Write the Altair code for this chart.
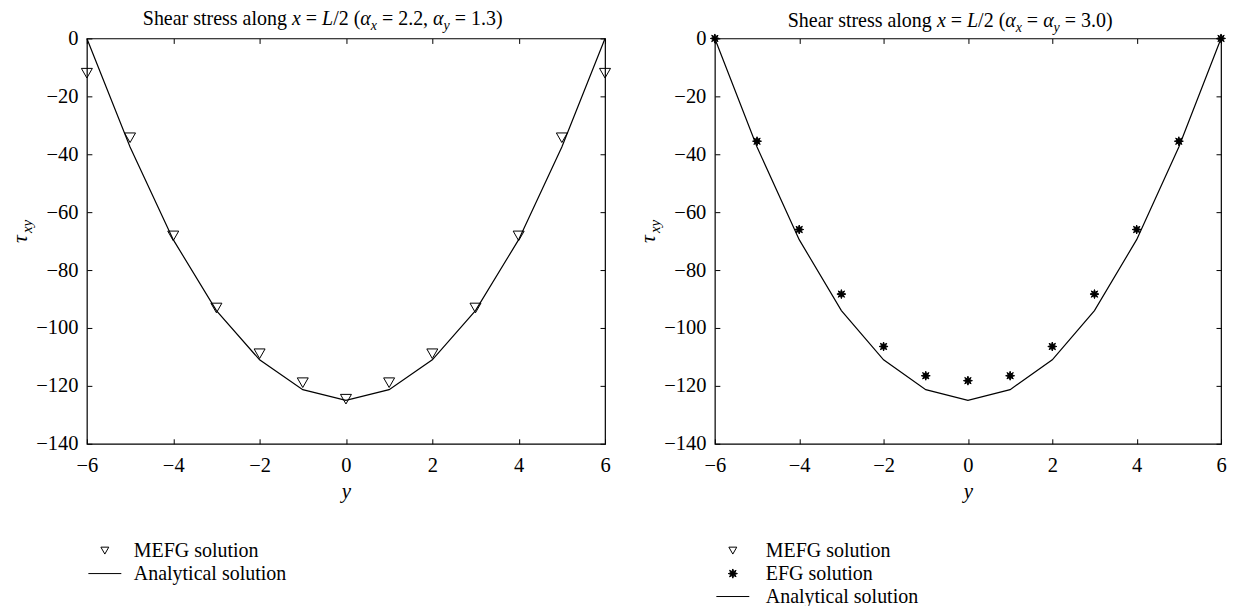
import math
import altair as alt
import pandas as pd

# ---------------- data ----------------
y_coord = [-6, -5, -4, -3, -2, -1, 0, 1, 2, 3, 4, 5, 6]
analytical = [0.0, -37.5, -69.5, -94.0, -111.0, -121.3, -125.0,
              -121.3, -111.0, -94.0, -69.5, -37.5, 0.0]
mefg_left = [-12.0, -34.3, -68.2, -93.1, -108.9, -118.9, -124.6,
             -118.9, -108.9, -93.1, -68.2, -34.3, -12.0]
efg_right = [0.0, -35.5, -66.0, -88.3, -106.4, -116.5, -118.2,
             -116.5, -106.4, -88.3, -66.0, -35.5, 0.0]

x_ticks = [-6, -4, -2, 0, 2, 4, 6]
y_ticks = [-140, -120, -100, -80, -60, -40, -20, 0]

series_left = ["MEFG solution", "Analytical solution"]
series_right = ["MEFG solution", "EFG solution", "Analytical solution"]

FONT = "Liberation Serif"

# ---------------- marker shapes (scaled so legend symbols stay small) ----------------
def poly(points):
    return "M" + "L".join(f"{x:.3f},{y:.3f}" for x, y in points) + "Z"

TRI = poly([(-0.24, -0.21), (0.24, -0.21), (0.0, 0.21)])
star_pts = []
for k in range(16):
    r = 0.28 if k % 2 == 0 else 0.13
    a = k * math.pi / 8 - math.pi / 2
    star_pts.append((r * math.cos(a), r * math.sin(a)))
STAR = poly(star_pts)

xscale = alt.Scale(domain=[-6, 6], nice=False, zero=False)
yscale = alt.Scale(domain=[-140, 0], nice=False, zero=False)


def axes_bottom_left():
    ax_x = alt.Axis(orient="bottom", values=x_ticks, domain=False, grid=False,
                    tickSize=5, offset=-5, labelPadding=12, labelFlush=False,
                    title="y", titleFontStyle="italic", titleFontSize=21,
                    titleFontWeight="normal", titlePadding=4)
    ax_y = alt.Axis(orient="left", values=y_ticks, domain=False, grid=False,
                    tickSize=5, offset=-5, labelPadding=9, title=None)
    return ax_x, ax_y


def axes_top_right():
    ax_x = alt.Axis(orient="top", values=x_ticks, domain=False, grid=False,
                    tickSize=5, offset=-5, labels=False, title=None)
    ax_y = alt.Axis(orient="right", values=y_ticks, domain=False, grid=False,
                    tickSize=5, offset=-5, labels=False, title=None)
    return ax_x, ax_y


W_REG = {' ': 0.25, '(': 0.333, ')': 0.333, ',': 0.25, '.': 0.25, '/': 0.278,
         '=': 0.564, 'S': 0.556, 'h': 0.5, 'e': 0.444, 'a': 0.444, 'r': 0.333,
         's': 0.389, 't': 0.278, 'l': 0.278, 'o': 0.5, 'n': 0.5, 'g': 0.5, 'L': 0.611}
W_IT = {'x': 0.444, 'L': 0.556, 'y': 0.444, 'α': 0.52, ' ': 0.25}

DUMMY = pd.DataFrame({"k": [0]})


def piece(txt, x, y, size, italic, angle=0):
    return alt.Chart(DUMMY).mark_text(
        text=txt, align="left", baseline="alphabetic", font=FONT,
        fontSize=size, fontStyle="italic" if italic else "normal",
        color="black", angle=angle
    ).encode(x=alt.value(x), y=alt.value(y))


def title_layers(segments, x0, y0, size=20, sub=14):
    layers = []
    x = x0
    for txt, kind in segments:
        table = W_REG if kind == "n" else W_IT
        fs = sub if kind == "s" else size
        yy = y0 + 5 if kind == "s" else y0
        core = txt.strip(" ")
        lead = len(txt) - len(txt.lstrip(" "))
        trail = len(txt) - len(txt.rstrip(" "))
        x += lead * 0.25 * fs
        if core:
            layers.append(piece(core, x, yy, fs, kind != "n"))
            x += sum(table.get(c, 0.5) for c in core) * fs
        x += trail * 0.25 * fs
    return layers


def tau_layers(height):
    y0 = height / 2 + 2
    return [piece("τ", -60, y0, 22, True, angle=270),
            piece("xy", -55, y0 - 10, 15, True, angle=270)]


def panel(width, height, points, series_domain, shape_range, fill_range,
          point_size, title_segments, title_x, title_y, legend_x, legend_y, label_offset):
    df_line = pd.DataFrame({"y": y_coord, "tau": analytical})
    df_pts = pd.DataFrame({"y": y_coord, "tau": points["values"],
                           "series": [points["name"]] * len(y_coord)})
    bx, ly = axes_bottom_left()
    tx, ry = axes_top_right()
    leg = alt.Legend(orient="none", legendX=legend_x, legendY=legend_y, title=None,
                     symbolSize=1089, clipHeight=20, rowPadding=3, padding=0,
                     labelOffset=label_offset, labelFont=FONT, labelFontSize=20,
                     labelColor="black", symbolStrokeColor="black", symbolStrokeWidth=1)
    line = alt.Chart(df_line).mark_line(color="black", strokeWidth=1.2).encode(
        x=alt.X("y:Q", scale=xscale, axis=bx),
        y=alt.Y("tau:Q", scale=yscale, axis=ly),
    )
    pts = alt.Chart(df_pts).mark_point(filled=True, strokeWidth=1,
                                       opacity=1, size=point_size).encode(
        x=alt.X("y:Q", scale=xscale, axis=tx),
        y=alt.Y("tau:Q", scale=yscale, axis=ry),
        shape=alt.Shape("series:N", scale=alt.Scale(domain=series_domain, range=shape_range), legend=leg),
        fill=alt.Fill("series:N", scale=alt.Scale(domain=series_domain, range=fill_range), legend=leg),
        stroke=alt.Stroke("series:N", scale=alt.Scale(domain=series_domain,
                                                      range=["black"] * len(series_domain)), legend=leg),
    )
    layers = [line, pts] + title_layers(title_segments, title_x, title_y) + tau_layers(height)
    return alt.layer(*layers).resolve_scale(x="independent", y="independent").properties(
        width=width, height=height)


seg_left = [("Shear stress along ", "n"), ("x", "i"), (" = ", "n"), ("L", "i"),
            ("/2 (", "n"), ("α", "i"), ("x", "s"), (" = 2.2, ", "n"), ("α", "i"),
            ("y", "s"), (" = 1.3)", "n")]
seg_right = [("Shear stress along ", "n"), ("x", "i"), (" = ", "n"), ("L", "i"),
             ("/2 (", "n"), ("α", "i"), ("x", "s"), (" = ", "n"), ("α", "i"),
             ("y", "s"), (" = 3.0)", "n")]

left = panel(519, 406, {"name": "MEFG solution", "values": mefg_left},
             series_left, [TRI, "stroke"], ["transparent", "transparent"], 2100,
             seg_left, 56, -13, 1, 503, 12)
right = panel(507, 406, {"name": "EFG solution", "values": efg_right},
              series_right, [TRI, STAR, "stroke"], ["transparent", "black", "transparent"], 1030,
              seg_right, 73, -11, 1, 503, 16)

chart = alt.concat(left, right, columns=2, spacing=22, align="none").resolve_scale(
    shape="independent", fill="independent", stroke="independent"
).properties(
    padding={"left": 0, "top": 0, "right": 5, "bottom": 0}
).configure_view(stroke="black", strokeWidth=1.2).configure_axis(
    labelFont=FONT, labelFontSize=20.5, labelColor="black", tickColor="black",
    tickWidth=1, titleFont=FONT, titleColor="black", grid=False
)

chart.save("out.html", embed_options={"renderer": "svg", "actions": False})
